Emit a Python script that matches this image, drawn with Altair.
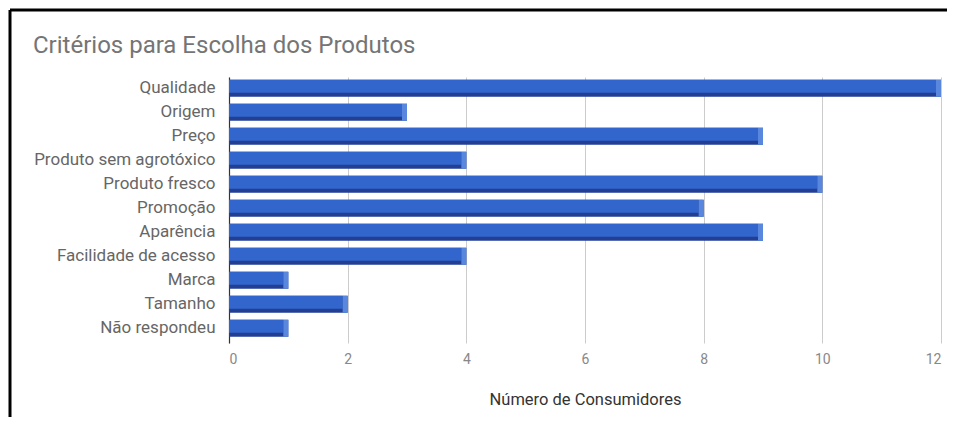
import altair as alt
import pandas as pd

categories = ["Qualidade", "Origem", "Preço", "Produto sem agrotóxico", "Produto fresco",
              "Promoção", "Aparência", "Facilidade de acesso", "Marca", "Tamanho", "Não respondeu"]
values = [12, 3, 9, 4, 10, 8, 9, 4, 1, 2, 1]
x_ticks = [0, 2, 4, 6, 8, 10, 12]
chart_title = "Critérios para Escolha dos Produtos"

df = pd.DataFrame({"criterio": categories, "consumidores": values})

FONT = "Roboto"

y_enc = alt.Y("criterio:N", sort=categories, title=None,
              scale=alt.Scale(paddingInner=0.28, paddingOuter=0.18, align=0.3),
              axis=alt.Axis(labelFontSize=17, labelColor="#666666", labelFont=FONT,
                            labelPadding=14, labelLimit=400, ticks=False,
                            domainColor="#333333", domainWidth=1.2))
x_enc = alt.X("consumidores:Q", title="Número de Consumidores",
              scale=alt.Scale(domain=[0, 12], nice=False),
              axis=alt.Axis(values=x_ticks, format="d", grid=True, gridColor="#cccccc",
                            ticks=False, domain=False, labelFontSize=14, labelColor="#888888",
                            labelFont=FONT, labelPadding=9, titleFont=FONT,
                            titleFontSize=16.5, titleFontWeight="normal", titleColor="#333333",
                            titlePadding=25))

base = alt.Chart(df)

dark = base.mark_bar(height=17, color="#233f94").encode(x=x_enc, y=y_enc)
face = base.mark_bar(height=13, yOffset=-2, xOffset=-5, color="#3366cc").encode(
    x=alt.X("consumidores:Q"), x2=alt.datum(0), y=alt.Y("criterio:N", sort=categories))
side = base.mark_bar(height=17, xOffset=-5, color="#5a87de").encode(
    x=alt.X("consumidores:Q"), x2=alt.X2("consumidores:Q"), y=alt.Y("criterio:N", sort=categories))

title_df = pd.DataFrame({"t": [chart_title]})
title_mark = alt.Chart(title_df).mark_text(
    align="left", baseline="middle", fontSize=24, font=FONT, color="#757575").encode(
    text="t:N", x=alt.value(-196), y=alt.value(-31))

border_df = pd.DataFrame({"k": [1]})
left_border = alt.Chart(border_df).mark_rule(color="black", strokeWidth=3).encode(
    x=alt.value(-219), y=alt.value(-67), y2=alt.value(345))
top_border = alt.Chart(border_df).mark_rule(color="black", strokeWidth=3).encode(
    x=alt.value(-219), x2=alt.value(730), y=alt.value(-67))

chart = alt.layer(dark, face, side, title_mark, left_border, top_border).properties(
    width=712, height=266,
    autosize=alt.AutoSizeParams(type="none"),
    padding={"left": 221, "top": 69, "right": 6, "bottom": 74},
).configure_view(stroke=None)

chart.save("out.html", embed_options={"renderer": "svg", "actions": False})
